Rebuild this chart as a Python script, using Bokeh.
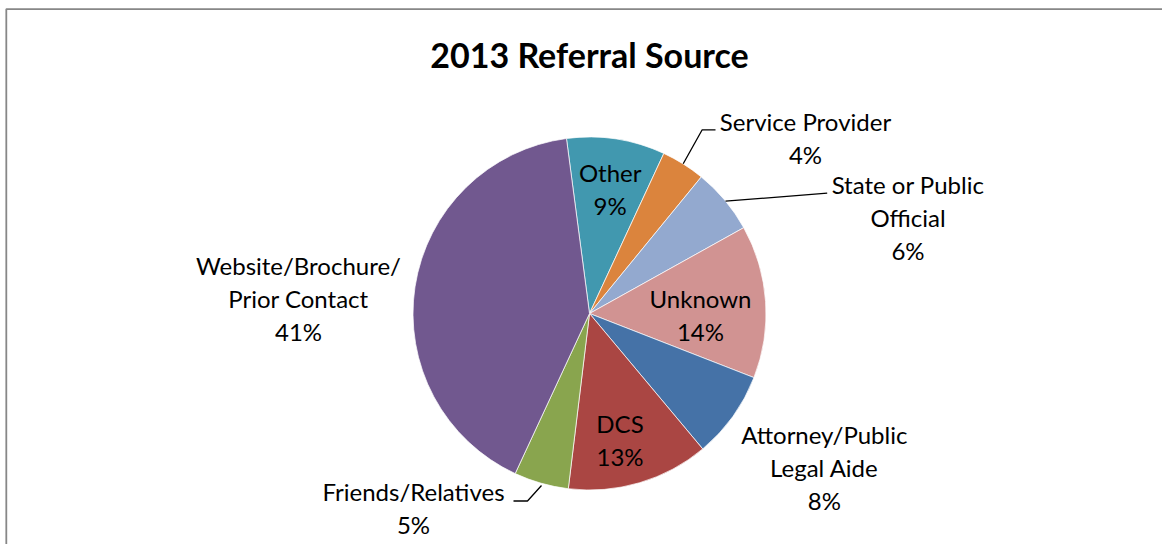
import math
from bokeh.plotting import figure
from bokeh.models import Range1d, ColumnDataSource
from bokeh.core.properties import value
from bokeh.embed import file_html
from bokeh.resources import INLINE

# ---------------- data ----------------
title_text = "2013 Referral Source"
categories = ["Other", "Service Provider", "State or Public Official", "Unknown",
              "Attorney/Public Legal Aide", "DCS", "Friends/Relatives",
              "Website/Brochure/Prior Contact"]
label_text = ["Other", "Service Provider", "State or Public\nOfficial", "Unknown",
              "Attorney/Public\nLegal Aide", "DCS", "Friends/Relatives",
              "Website/Brochure/\nPrior Contact"]
percent = [9, 4, 6, 14, 8, 13, 5, 41]
colors = ["#4198AF", "#DB843D", "#93A9CF", "#D19392",
          "#4572A7", "#AA4643", "#89A54E", "#71588F"]

# ---------------- layout ----------------
W, H = 1162, 544
CX, CY = 589, 231          # pie centre (data units = px)
R = 176.5
START_DEG = 97.5           # first slice starts here, going clockwise
FONT = "Lato"
LABEL_SIZE = "24px"
TITLE_SIZE = "34px"
# label block centre offsets from pie centre (dx, dy) in px
label_offsets = [(20.7, 122.7), (216, 173.3), (318.5, 94.3), (111, -3.5),
                 (234.8, -156), (30.5, -128.5), (-176, -196.2), (-291, 13)]
# leader lines: (slice index, list of offsets from centre)
leaders = {
    1: [(93.7, 149.7), (112.7, 183.7), (126, 183.7)],
    2: [(136, 112.3), (237.7, 120.3)],
    6: [(-76, -187.5), (-62, -187.5), (-48, -172)],
}

p = figure(width=W, height=H, output_backend="svg", toolbar_location=None,
           x_range=Range1d(0, W), y_range=Range1d(0, H), min_border=0)
p.axis.visible = False
p.grid.visible = False
p.outline_line_color = None
p.background_fill_color = "white"
p.border_fill_color = "white"

# wedges
total = sum(percent)
starts, ends = [], []
acc = 0.0
for v in percent:
    a0 = math.radians(START_DEG - acc / total * 360.0)
    acc += v
    a1 = math.radians(START_DEG - acc / total * 360.0)
    starts.append(a0)
    ends.append(a1)

src = ColumnDataSource(dict(cat=categories, pct=percent, color=colors,
                            start=starts, end=ends))
p.wedge(x=CX, y=CY, radius=R, radius_units="screen", start_angle="start",
        end_angle="end", direction="clock", fill_color="color",
        line_color="white", line_width=0.7, source=src)

# labels
lx = [CX + d[0] for d in label_offsets]
ly = [CY + d[1] + 2 for d in label_offsets]
ltxt = [f"{t}\n{v}%" for t, v in zip(label_text, percent)]
p.text(x=lx, y=ly, text=ltxt, text_align="center", text_baseline="middle",
       text_font=value(FONT), text_font_size=LABEL_SIZE, text_color="black",
       text_line_height=1.135)

# leader lines
for i, pts in leaders.items():
    p.line([CX + a for a, b in pts], [CY + b for a, b in pts],
           line_color="black", line_width=1.3)

# title
p.text(x=[CX], y=[H - 54], text=[title_text], text_align="center",
       text_baseline="middle", text_font=value(FONT),
       text_font_size=TITLE_SIZE, text_font_style="bold", text_color="black")

# chart frame (top and left edges visible)
p.line([5.8, 5.8, W], [0, H - 8.6, H - 8.6], line_color="#878787", line_width=1.8)

open("out.html", "w").write(file_html(p, INLINE))
